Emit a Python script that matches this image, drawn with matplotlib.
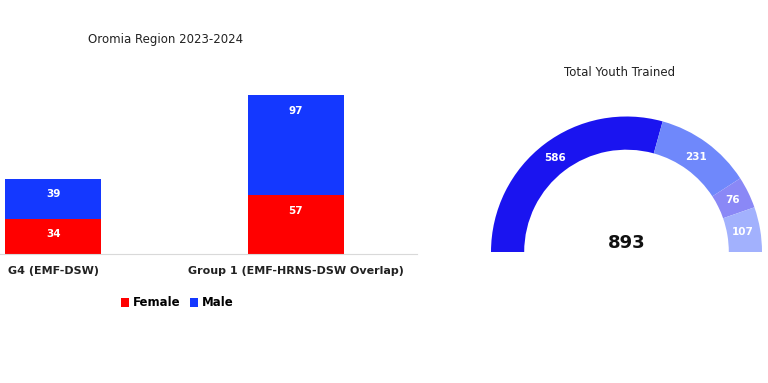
import numpy as np
import matplotlib.pyplot as plt

# bar chart data
groups = ["G4 (EMF-DSW)", "Group 1 (EMF-HRNS-DSW Overlap)"]
female = [34, 57]
male = [39, 97]

# gauge data
gauge_values = [586, 231, 76, 107]
gauge_colors = ["#1a14f0", "#6f88fb", "#8a88f6", "#a2b1fd"]
total_trained = 893

fig = plt.figure(figsize=(7.68, 3.83), dpi=100)
W, H = 768, 383

# left: stacked bars
ax = fig.add_axes([0, (H - 254) / H, 417 / W, 175 / H])
x = np.arange(len(groups))
ax.bar(x, female, width=0.396, color="#ff0000", label="Female")
ax.bar(x, male, width=0.396, bottom=female, color="#1438ff", label="Male")
for i in range(len(groups)):
    # labels sit near the top of each segment
    ax.annotate(str(female[i]), (x[i], female[i]), xytext=(0, -11), textcoords="offset points",
                ha="center", va="center", color="white", fontsize=7.5, fontweight="bold")
    ax.annotate(str(male[i]), (x[i], female[i] + male[i]), xytext=(0, -11), textcoords="offset points",
                ha="center", va="center", color="white", fontsize=7.5, fontweight="bold")
ax.set_xlim(-0.219, 1.5)
ax.set_ylim(0, 170)
ax.set_xticks(x)
ax.set_xticklabels(groups, fontsize=8, fontweight="bold", color="#222222")
ax.tick_params(axis="x", length=0, pad=9)
ax.set_yticks([])
for s in ["top", "right", "left"]:
    ax.spines[s].set_visible(False)
ax.spines["bottom"].set_color("#d9d9d9")
fig.text(166 / W, 1 - 40 / H, "Oromia Region 2023-2024", ha="center", va="center",
         fontsize=8.5, color="#222222")
fig.legend(loc="center", bbox_to_anchor=(177 / W, 1 - 303 / H), ncol=2, frameon=False,
           prop={"size": 8.5, "weight": "bold"}, handlelength=0.7, handleheight=0.7,
           handletextpad=0.3, columnspacing=0.8)

# right: half donut gauge
R = 135.5
cx, cy = 626.5, 252
gx = fig.add_axes([(cx - 150) / W, (H - cy - 150) / H, 300 / W, 300 / H])
vals = gauge_values + [sum(gauge_values)]
cols = gauge_colors + ["none"]
gx.pie(vals, colors=cols, startangle=180, counterclock=False, radius=1,
       wedgeprops=dict(width=0.245, linewidth=0))
gx.set_xlim(-150 / R, 150 / R)
gx.set_ylim(-150 / R, 150 / R)
gx.axis("off")
total = sum(gauge_values)
start = 0
for v in gauge_values:
    mid = (start + v / 2) / total * np.pi
    ang = np.pi - mid
    r = 0.87
    gx.text(r * np.cos(ang), r * np.sin(ang), str(v), ha="center", va="center",
            color="white", fontsize=7.5, fontweight="bold")
    start += v
gx.text(0, 0.066, str(total_trained), ha="center", va="center", fontsize=13,
        fontweight="bold", color="#111111")
fig.text(620 / W, 1 - 73 / H, "Total Youth Trained", ha="center", va="center",
         fontsize=8.5, color="#222222")

fig.savefig("out.png", dpi=100)
